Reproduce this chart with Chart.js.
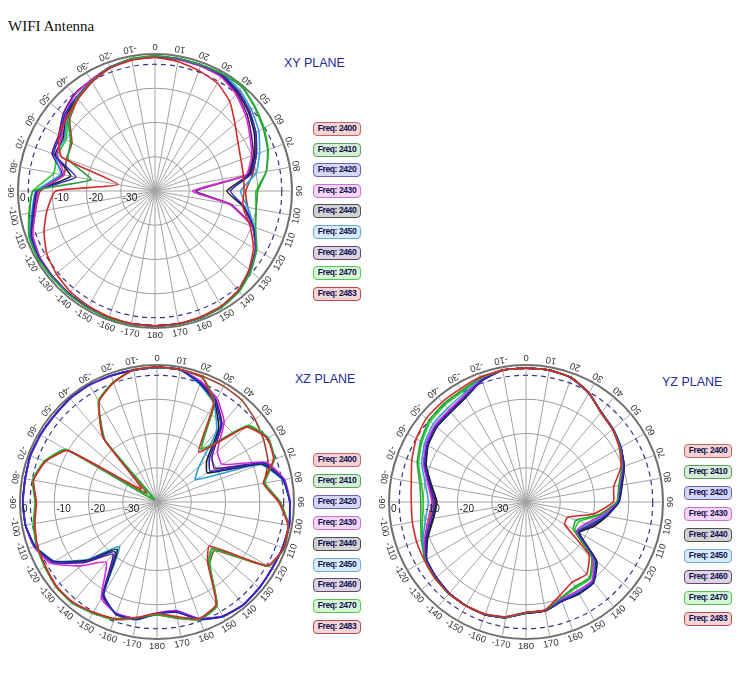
<!DOCTYPE html>
<html>
<head>
<meta charset="utf-8">
<script src="https://cdn.jsdelivr.net/npm/chart.js@4.4.0/dist/chart.umd.min.js"></script>
<style>
  body { margin: 0; background: #fff; }
  #page { position: relative; width: 750px; height: 700px; overflow: hidden; }
  canvas { position: absolute; }
  .title { position: absolute; left: 8px; top: 18px; font: 15px "Liberation Serif", "Times New Roman", serif; color: #111; }
  .plane { position: absolute; font: 12.5px "Liberation Sans", Arial, sans-serif; color: #1f2a9c; }
  .leg { position: absolute; width: 48px; height: 14px; border-radius: 4px; border: 1.5px solid;
         box-sizing: border-box; font: bold 8.5px "Liberation Sans", Arial, sans-serif; color: #101050;
         text-align: center; line-height: 11px; letter-spacing: -0.4px; white-space: nowrap; }
</style>
</head>
<body>
<div id="page">
  <div class="title">WIFI Antenna</div>
  <div class="plane" style="left:284px; top:56px;">XY PLANE</div>
  <div class="plane" style="left:295px; top:372px;">XZ PLANE</div>
  <div class="plane" style="left:662px; top:375px;">YZ PLANE</div>
  <canvas id="xy" width="310" height="310" style="left:0px; top:36px;"></canvas>
  <canvas id="xz" width="310" height="310" style="left:2px; top:347px;"></canvas>
  <canvas id="yz" width="310" height="310" style="left:371px; top:347px;"></canvas>
</div>
<script>
// angles clockwise from top, every 10 degrees
const ANGLES = [0,10,20,30,40,50,60,70,80,90,100,110,120,130,140,150,160,170,180,
                -170,-160,-150,-140,-130,-120,-110,-100,-90,-80,-70,-60,-50,-40,-30,-20,-10];
const RING_LABELS = [0, -10, -20, -30];
const FREQS = ['2400','2410','2420','2430','2440','2450','2460','2470','2483'];
const LINE_COLORS = ['#d42a2a','#2e9e3e','#2a2ac8','#d62ad6','#1e1e1e','#2aa0d8','#5a1a7a','#22cc22','#a0402a'];
const BOX_BORDERS = ['#c86464','#5aa05a','#6464c0','#d070d0','#505050','#70a8d0','#604870','#50c850','#c04848'];
const BOX_FILLS   = ['#f6d4d4','#d6eed6','#d6d6f6','#f6d6f6','#d2d2d2','#d6ecf8','#ddd4e2','#d6f6d6','#f6d6d6'];

// XY plane, dB
const xy2400 = [-1.0,-1.6,-2.6,-3.6,-6.0,-9.5,-12.0,-13.3,-13.8,-14.0,-14.0,-10.5,-6.8,-4.2,-2.2,-1.3,-0.9,-0.7,-0.6,-0.7,-0.9,-1.2,-1.6,-2.4,-3.5,-5.5,-8.0,-11.0,-29.0,-11.0,-7.5,-6.5,-5.0,-3.2,-1.8,-1.2];
const xy2410 = [-0.6,-0.7,-0.8,-0.6,-0.4,-2.0,-3.5,-5.0,-7.0,-10.0,-10.0,-8.8,-5.8,-3.6,-1.8,-0.9,-0.6,-0.5,-0.5,-0.5,-0.5,-0.6,-0.7,-0.8,-0.6,-0.9,-2.8,-4.5,-21.0,-13.0,-11.5,-7.0,-4.6,-3.0,-1.6,-0.8];
const xy2420 = [-0.8,-0.8,-0.9,-0.8,-2.2,-4.0,-6.0,-8.5,-11.5,-18.0,-13.5,-9.5,-6.0,-3.8,-2.0,-1.0,-0.7,-0.6,-0.6,-0.6,-0.6,-0.8,-0.9,-1.0,-0.9,-1.5,-3.8,-5.5,-16.5,-8.5,-8.0,-5.5,-4.3,-3.0,-1.5,-0.9];
const xy2430 = [-0.9,-1.0,-1.2,-1.5,-3.2,-5.5,-8.0,-10.0,-13.0,-29.0,-18.0,-9.8,-6.2,-3.9,-2.0,-1.0,-0.7,-0.6,-0.6,-0.6,-0.6,-0.8,-0.9,-1.1,-1.2,-2.0,-4.5,-6.0,-13.0,-9.5,-8.5,-5.8,-3.5,-2.6,-1.5,-1.0];
const xy2440 = [-0.7,-0.8,-0.9,-0.9,-2.4,-4.3,-6.5,-9.0,-12.0,-19.0,-13.8,-9.6,-6.0,-3.8,-2.0,-1.0,-0.7,-0.6,-0.6,-0.6,-0.6,-0.8,-0.9,-1.0,-1.0,-1.6,-4.0,-5.6,-15.0,-9.0,-9.0,-6.0,-4.5,-3.0,-1.6,-0.9];
const xy2450 = [-0.7,-0.8,-0.8,-0.6,-1.5,-3.2,-5.0,-7.5,-10.0,-15.0,-12.5,-9.3,-5.9,-3.7,-1.9,-0.9,-0.6,-0.5,-0.5,-0.6,-0.6,-0.7,-0.8,-0.9,-0.8,-1.3,-3.5,-5.2,-12.0,-9.0,-9.5,-6.5,-4.4,-3.0,-1.6,-0.8];
const xy2460 = [-0.9,-1.0,-1.1,-1.3,-2.8,-5.0,-7.5,-9.5,-12.5,-28.0,-17.5,-9.7,-6.1,-3.9,-2.0,-1.0,-0.7,-0.6,-0.6,-0.6,-0.6,-0.8,-0.9,-1.0,-1.1,-1.8,-4.2,-5.8,-12.5,-8.0,-7.5,-5.0,-3.2,-2.6,-1.5,-1.0];
const xy2470 = [-0.6,-0.7,-0.8,-0.5,-0.3,-1.8,-3.2,-4.8,-7.0,-10.5,-10.0,-8.8,-5.7,-3.5,-1.7,-0.9,-0.6,-0.5,-0.5,-0.5,-0.5,-0.6,-0.7,-0.7,-0.5,-0.8,-2.6,-4.3,-10.0,-9.5,-10.0,-7.0,-4.8,-3.2,-1.7,-0.8];
const xy2483 = [-0.8,-0.9,-1.0,-1.0,-2.0,-3.8,-6.0,-8.5,-11.0,-13.5,-12.5,-9.5,-6.0,-3.8,-2.0,-1.0,-0.7,-0.6,-0.6,-0.6,-0.7,-0.8,-0.9,-1.0,-1.2,-2.0,-4.5,-6.5,-13.0,-12.5,-12.0,-7.5,-5.0,-3.2,-1.7,-0.9];

// XZ plane, dB
const xz2400 = [-0.6,-0.7,-1.3,-7.0,-21.0,-6.0,-2.8,-3.8,-8.5,-4.5,-1.2,-0.6,-2.8,-20.0,-17.0,-5.5,-3.8,-6.0,-7.5,-5.8,-3.8,-2.8,-1.8,-1.7,-2.4,-2.8,-3.8,-4.8,-3.4,-5.4,-10.0,-34.0,-15.5,-6.2,-2.9,-0.8];
const xz2410 = [-0.7,-0.8,-1.4,-6.5,-20.0,-5.5,-2.6,-3.6,-8.2,-4.2,-1.1,-0.6,-2.6,-19.0,-16.5,-5.2,-3.6,-5.8,-7.2,-5.6,-3.6,-2.6,-1.6,-1.6,-2.2,-2.6,-3.5,-4.5,-3.2,-5.2,-9.5,-39.0,-16.5,-6.0,-2.8,-0.8];
const xz2420 = [-0.7,-0.8,-3.0,-6.0,-11.0,-20.0,-22.0,-7.0,-2.5,-1.2,-0.8,-1.0,-1.2,-1.0,-0.8,-1.5,-3.6,-7.5,-7.5,-5.3,-5.2,-8.5,-21.0,-13.0,-5.0,-2.0,-1.0,-0.8,-0.9,-0.6,-0.7,-0.8,-0.5,-0.5,-0.8,-0.9];
const xz2430 = [-0.7,-0.8,-2.5,-5.0,-9.5,-17.0,-18.0,-6.0,-2.2,-1.1,-0.8,-1.0,-1.3,-1.1,-0.9,-1.6,-3.8,-7.8,-7.6,-5.5,-5.4,-7.5,-17.0,-11.0,-4.2,-1.8,-1.0,-0.8,-0.9,-0.7,-0.8,-0.8,-0.6,-0.6,-0.8,-0.9];
const xz2440 = [-0.7,-0.8,-3.2,-6.3,-12.0,-21.0,-23.0,-7.5,-2.6,-1.2,-0.8,-1.0,-1.2,-1.0,-0.8,-1.4,-3.5,-7.4,-7.4,-5.2,-5.1,-8.8,-22.0,-13.5,-5.2,-2.1,-1.0,-0.8,-0.9,-0.6,-0.7,-0.8,-0.5,-0.5,-0.8,-0.9];
const xz2450 = [-0.7,-0.8,-3.5,-6.8,-13.0,-24.0,-27.0,-8.0,-2.8,-1.3,-0.9,-1.0,-1.2,-1.0,-0.8,-1.4,-3.4,-7.3,-7.3,-5.1,-5.0,-9.0,-23.0,-14.0,-5.5,-2.2,-1.1,-0.9,-1.0,-0.7,-0.8,-0.9,-0.6,-0.5,-0.8,-0.9];
const xz2460 = [-0.7,-0.8,-2.8,-5.6,-10.5,-19.0,-20.5,-6.6,-2.4,-1.2,-0.8,-1.0,-1.2,-1.0,-0.8,-1.5,-3.7,-7.6,-7.5,-5.4,-5.3,-8.2,-20.0,-12.5,-4.8,-1.9,-1.0,-0.8,-0.9,-0.6,-0.7,-0.8,-0.5,-0.5,-0.8,-0.9];
const xz2470 = [-0.7,-0.8,-1.3,-6.2,-19.5,-5.2,-2.5,-3.5,-8.0,-4.1,-1.0,-0.5,-2.5,-18.5,-16.0,-5.0,-3.4,-5.6,-7.1,-5.5,-3.5,-2.5,-1.5,-1.5,-2.1,-2.5,-3.3,-4.4,-3.1,-5.0,-9.2,-38.0,-16.0,-5.8,-2.7,-0.8];
const xz2483 = [-0.6,-0.7,-0.9,-1.0,-1.3,-2.6,-4.0,-5.5,-8.0,-4.0,-1.0,-0.5,-2.5,-18.0,-16.0,-5.0,-3.5,-5.5,-7.0,-5.5,-3.5,-2.5,-1.5,-1.5,-2.3,-2.7,-3.6,-4.6,-3.3,-5.3,-9.8,-36.0,-16.0,-6.0,-2.8,-0.8];

// YZ plane, dB
const yz2400 = [-0.9,-0.9,-1.3,-3.2,-6.0,-7.0,-8.5,-10.5,-14.0,-14.5,-20.0,-27.0,-27.0,-16.0,-12.5,-13.0,-11.0,-8.0,-7.8,-6.0,-5.2,-5.0,-5.0,-5.3,-5.8,-6.0,-6.3,-6.5,-6.0,-4.5,-3.0,-2.0,-1.9,-1.8,-1.1,-0.9];
const yz2410 = [-0.9,-0.9,-1.3,-3.2,-5.9,-6.9,-8.3,-10.2,-12.5,-13.5,-18.5,-24.5,-24.0,-15.0,-11.2,-11.5,-10.2,-7.9,-7.7,-5.9,-5.1,-5.0,-5.0,-5.4,-6.0,-7.5,-8.8,-9.3,-8.5,-6.2,-4.5,-3.0,-2.6,-2.4,-1.5,-0.9];
const yz2420 = [-0.9,-0.9,-1.4,-3.3,-5.8,-6.8,-8.0,-9.6,-11.8,-13.0,-16.5,-20.0,-22.5,-13.5,-9.5,-9.3,-9.3,-7.8,-7.6,-5.8,-5.0,-5.0,-5.2,-5.7,-6.4,-9.0,-12.0,-13.2,-11.5,-8.6,-6.7,-5.7,-5.5,-4.5,-2.2,-0.9];
const yz2430 = [-0.9,-0.9,-1.4,-3.3,-5.9,-7.0,-8.2,-9.8,-12.0,-13.2,-17.5,-21.5,-23.0,-14.5,-10.0,-10.0,-9.8,-7.9,-7.7,-5.9,-5.1,-5.0,-5.1,-5.6,-6.2,-8.5,-11.0,-12.5,-11.0,-8.2,-6.3,-5.2,-5.0,-4.0,-2.0,-0.9];
const yz2440 = [-0.9,-0.9,-1.4,-3.3,-5.8,-6.8,-8.0,-9.5,-11.5,-12.8,-16.0,-19.0,-22.0,-13.0,-9.3,-9.0,-9.2,-7.7,-7.5,-5.7,-5.0,-5.0,-5.2,-5.8,-6.5,-9.5,-12.6,-14.0,-12.0,-9.0,-7.0,-6.0,-5.8,-4.8,-2.3,-0.9];
const yz2450 = [-0.9,-0.9,-1.4,-3.3,-5.9,-6.9,-8.1,-9.7,-11.9,-13.1,-17.0,-21.0,-22.8,-14.0,-9.8,-9.7,-9.6,-7.8,-7.6,-5.8,-5.0,-5.0,-5.1,-5.5,-6.1,-8.0,-10.2,-11.5,-10.2,-7.6,-5.8,-4.6,-4.3,-3.5,-1.8,-0.9];
const yz2460 = [-0.9,-0.9,-1.4,-3.3,-5.8,-6.8,-8.0,-9.5,-11.6,-12.9,-16.2,-19.5,-22.3,-13.2,-9.4,-9.1,-9.2,-7.7,-7.5,-5.7,-5.0,-5.0,-5.2,-5.8,-6.5,-9.3,-12.4,-13.6,-11.8,-8.8,-6.9,-5.9,-5.7,-4.7,-2.3,-0.9];
const yz2470 = [-0.9,-0.9,-1.3,-3.2,-5.9,-6.9,-8.3,-10.1,-12.3,-13.4,-18.0,-23.5,-23.5,-14.8,-10.8,-11.0,-10.0,-7.9,-7.7,-5.9,-5.1,-5.0,-5.0,-5.4,-6.0,-7.8,-9.3,-10.0,-9.0,-6.6,-4.9,-3.5,-3.1,-2.8,-1.6,-0.9];
const yz2483 = [-0.9,-0.9,-1.4,-3.3,-5.8,-6.9,-8.1,-9.8,-12.0,-13.3,-17.0,-20.5,-22.5,-13.8,-9.7,-9.5,-9.5,-7.8,-7.6,-5.8,-5.0,-5.0,-5.1,-5.6,-6.2,-8.8,-11.5,-12.8,-11.2,-8.3,-6.5,-5.4,-5.2,-4.3,-2.1,-0.9];

const XY = [xy2400, xy2410, xy2420, xy2430, xy2440, xy2450, xy2460, xy2470, xy2483];
const XZ = [xz2400, xz2410, xz2420, xz2430, xz2440, xz2450, xz2460, xz2470, xz2483];
const YZ = [yz2400, yz2410, yz2420, yz2430, yz2440, yz2450, yz2460, yz2470, yz2483];

// dashed -3 dB circle, rotated angle labels, dB labels on the left axis
const polarDecor = {
    id: 'polarDecor',
    beforeDatasetsDraw(chart) {
        const s = chart.scales.r;
        const ctx = chart.ctx;
        ctx.save();
        ctx.strokeStyle = '#34348a';
        ctx.lineWidth = 1.2;
        ctx.setLineDash([5, 4]);
        ctx.beginPath();
        ctx.arc(s.xCenter, s.yCenter, s.getDistanceFromCenterForValue(-3), 0, Math.PI * 2);
        ctx.stroke();
        ctx.restore();
    },
    afterDraw(chart) {
        const s = chart.scales.r;
        const ctx = chart.ctx;
        ctx.save();
        ctx.fillStyle = '#333';
        ctx.font = '9.5px "Liberation Sans", Arial, sans-serif';
        ctx.textAlign = 'center';
        ctx.textBaseline = 'middle';
        ANGLES.forEach((a, i) => {
            const p = s.getPointPosition(i, s.drawingArea + 7);
            ctx.save();
            ctx.translate(p.x, p.y);
            ctx.rotate((i * 10 + 180) * Math.PI / 180);
            ctx.fillText(String(a), 0, 0);
            ctx.restore();
        });
        ctx.font = '10px "Liberation Sans", Arial, sans-serif';
        ctx.fillStyle = '#222';
        ctx.textAlign = 'left';
        ctx.textBaseline = 'top';
        RING_LABELS.forEach(v => {
            const p = s.getPointPositionForValue(27, v);
            ctx.fillText(String(v), p.x + 2, p.y + 2);
        });
        ctx.restore();
    }
};

function makePolar(id, series) {
    const canvas = document.getElementById(id);
    const datasets = series.map((d, i) => ({
        label: 'Freq: ' + FREQS[i],
        data: d,
        borderColor: LINE_COLORS[i],
        borderWidth: 1.6,
        fill: false,
        pointRadius: 0,
        tension: 0.15,
    }));
    return new Chart(canvas, {
        type: 'radar',
        data: { labels: ANGLES.map(String), datasets },
        options: {
            responsive: false,
            animation: false,
            layout: { padding: 18 },
            plugins: { legend: { display: false }, tooltip: { enabled: false } },
            scales: {
                r: {
                    min: -40,
                    max: 0,
                    ticks: { display: false, stepSize: 10 },
                    grid: {
                        circular: true,
                        color: c => (c.tick && c.tick.value === 0) ? '#6e6e6e' : '#9c9c9c',
                        lineWidth: c => (c.tick && c.tick.value === 0) ? 2 : 1,
                    },
                    angleLines: { color: '#a4a4a4', lineWidth: 1 },
                    pointLabels: { display: false },
                },
            },
        },
        plugins: [polarDecor],
    });
}

function makeLegend(left, top, step) {
    const page = document.getElementById('page');
    FREQS.forEach((f, i) => {
        const d = document.createElement('div');
        d.className = 'leg';
        d.style.left = left + 'px';
        d.style.top = (top + i * step) + 'px';
        d.style.borderColor = BOX_BORDERS[i];
        d.style.background = BOX_FILLS[i];
        d.textContent = 'Freq: ' + f;
        page.appendChild(d);
    });
}

makePolar('xy', XY);
makePolar('xz', XZ);
makePolar('yz', YZ);
makeLegend(313, 122, 20.6);
makeLegend(313, 453, 20.9);
makeLegend(684, 444, 21);
</script>
</body>
</html>
